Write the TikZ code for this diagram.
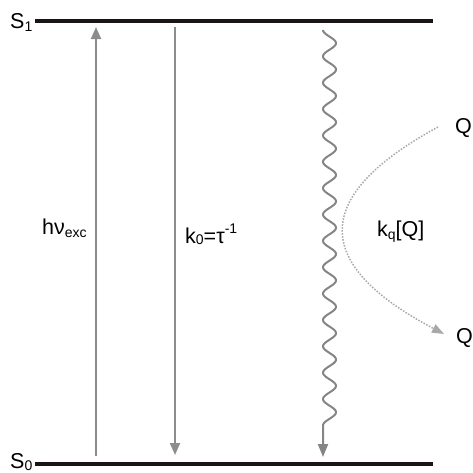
\documentclass[tikz,border=0pt]{standalone}
\usepackage{fontspec}
\setmainfont{Liberation Sans}
\usetikzlibrary{arrows.meta}
\definecolor{lvl}{HTML}{1A1414}
\definecolor{arr}{HTML}{8C8C8C}
\definecolor{wavec}{HTML}{858585}
\definecolor{dotc}{HTML}{A8A8A8}
\newcommand{\sbs}[2][-3pt]{\raisebox{#1}{\fontsize{14}{14}\selectfont #2}}
\newcommand{\sps}[1]{\raisebox{10pt}{\fontsize{14}{14}\selectfont #1}}
\begin{document}
\begin{tikzpicture}[x=1pt,y=-1pt,
  lbl/.style={anchor=base west, inner sep=0pt, font=\fontsize{21.5}{24}\selectfont},
  level/.style={draw=lvl, line width=4pt},
  trans/.style={draw=arr, line width=2pt, -{Triangle[width=10pt,length=12pt]}},
  wavy/.style={draw=wavec, line width=2pt, -{Triangle[width=10pt,length=13pt]}},
  quench/.style={draw=dotc, line width=1.5pt, dash pattern=on 1.5pt off 1.5pt, -{Triangle[width=9pt,length=12pt]}}]
\useasboundingbox (0,0) rectangle (473,472);
% levels
\coordinate (s1l) at (35,21);
\coordinate (s1r) at (433,21);
\coordinate (s0l) at (35,464);
\coordinate (s0r) at (433,464);
\draw[level] (s1l) -- (s1r);
\draw[level] (s0l) -- (s0r);
\node[lbl] (S1) at (10,28) {S\sbs{1}};
\node[lbl] (S0) at (10,468) {S\sbs[-2pt]{0}};
% excitation
\coordinate (exb) at (96,456);
\coordinate (ext) at (96,27);
\draw[trans] (exb) -- (ext);
\node[lbl] (hnu) at (42,234) {hν\sbs{exc}};
% radiative decay
\coordinate (k0t) at (175,27);
\coordinate (k0b) at (175,455);
\draw[trans] (k0t) -- (k0b);
\node[lbl] (k0) at (185,243) {k\sbs[-1.5pt]{0}=τ\sps{-1}};
% nonradiative (wavy)
\coordinate (wb) at (323,457);
\draw[wavy] plot[domain=30:425.4, samples=400, smooth] ({329.5-6.5*cos(13.657*(\x-30))}, \x) -- (wb);
% quenching
\node[lbl] (qt) at (455,133) {Q};
\node[lbl] (qb) at (456,343) {Q};
\node[lbl] (kq) at (377,236) {k\sbs{q}[Q]};
\coordinate (qs) at (438,127);
\coordinate (qe) at (444,334);
\draw[quench] (qs) .. controls (311,196) and (311,264) .. (qe);
\end{tikzpicture}
\end{document}
